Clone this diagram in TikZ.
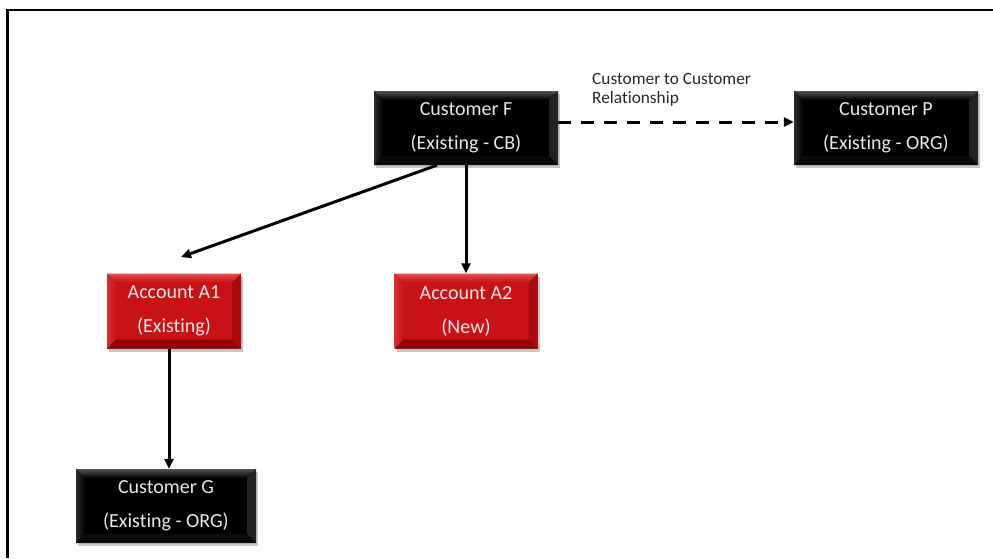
\documentclass[tikz,border=0pt]{standalone}
\usepackage{fontspec}
\setmainfont{Carlito}[Ligatures=NoCommon]
\usepackage{xcolor}
\usepackage{tikz}
\usetikzlibrary{positioning,calc,shadows,arrows.meta}

\definecolor{faceRed}{RGB}{200,18,22}
\definecolor{redTop}{RGB}{226,78,78}
\definecolor{redLeft}{RGB}{214,50,52}
\definecolor{redRight}{RGB}{170,12,14}
\definecolor{redBottom}{RGB}{140,6,8}
\definecolor{greyTop}{RGB}{82,82,82}
\definecolor{greyLeft}{RGB}{44,44,44}
\definecolor{greyRight}{RGB}{34,34,34}
\definecolor{greyBottom}{RGB}{10,10,10}
\definecolor{boxText}{RGB}{232,232,232}
\definecolor{noteText}{RGB}{40,40,40}

\tikzset{
    bevel/.style n args={5}{path picture={
        \path (path picture bounding box.north west) coordinate (bnw)
              (path picture bounding box.south east) coordinate (bse);
        \shade[top color=#1, bottom color=#5] (bnw) -- (bnw -| bse) -- ([shift={(-9pt,-9pt)}]bnw -| bse) -- ([shift={(9pt,-9pt)}]bnw) -- cycle;
        \shade[left color=#2, right color=#5] (bnw) -- (bnw |- bse) -- ([shift={(9pt,9pt)}]bnw |- bse) -- ([shift={(9pt,-9pt)}]bnw) -- cycle;
        \fill[#3] (bse) -- (bse |- bnw) -- ([shift={(-9pt,-9pt)}]bse |- bnw) -- ([shift={(-9pt,9pt)}]bse) -- cycle;
        \fill[#4] (bse) -- (bse -| bnw) -- ([shift={(9pt,9pt)}]bse -| bnw) -- ([shift={(-9pt,9pt)}]bse) -- cycle;
    }},
    custbox/.style={fill=black, bevel={greyTop}{greyLeft}{greyRight}{greyBottom}{black}, text=boxText, align=center,
        minimum width=184pt, minimum height=74pt, inner sep=0pt,
        font=\fontsize{20}{34}\selectfont,
        drop shadow={opacity=0.45, shadow xshift=2pt, shadow yshift=-3pt}},
    accbox/.style={custbox, fill=faceRed, bevel={redTop}{redLeft}{redRight}{redBottom}{faceRed}, minimum height=75pt},
    link/.style={line width=3pt, -{Triangle[length=10pt,width=9pt]}},
    relink/.style={link, dash pattern=on 13pt off 10pt},
}

\begin{document}
\begin{tikzpicture}[x=1pt,y=-1pt]
    \useasboundingbox (0,0) rectangle (993,558);

    % Frame
    \draw[line width=2.5pt] (7.5,558) -- (7.5,10) -- (993,10);

    % Customers
    \node[custbox] (custF) at (466,128) {Customer F\\(Existing - CB)};
    \node[custbox] (custP) at (886,128) {Customer P\\(Existing - ORG)};
    \node[custbox, minimum width=180pt] (custG) at (166,506) {Customer G\\(Existing - ORG)};

    % Accounts
    \node[accbox, minimum width=134pt] (accA1) at (174,311) {Account A1\\(Existing)};
    \node[accbox, minimum width=143pt] (accA2) at (466,311) {Account A2\\(New)};

    % Links
    \coordinate (tipA1) at (181,257);
    \draw[link] ($(custF.south)+(-29,0)$) -- (tipA1);
    \draw[link] (custF.south) -- (accA2.north);
    \draw[link] ($(accA1.south)+(-5,0)$) coordinate (outA1) -- (outA1 |- custG.north);

    % Customer to customer relationship
    \draw[relink] ($(custF.east)+(0,-6)$) coordinate (outF) -- (outF -| custP.west);
    \node[anchor=north west, inner sep=0pt, align=left, text=noteText,
          font=\fontsize{17.3}{19}\selectfont] (relnote) at (592,73)
          {Customer to Customer\\Relationship};

\end{tikzpicture}
\end{document}
